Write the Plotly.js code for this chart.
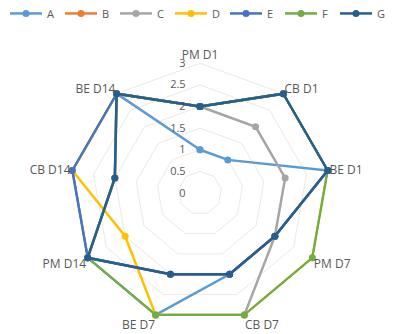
<!DOCTYPE html>
<html>
<head>
<meta charset="utf-8">
<script src="https://cdn.plot.ly/plotly-3.0.1.min.js"></script>
<style>
  html, body { margin: 0; padding: 0; background: #ffffff; }
  #chart { width: 398px; height: 334px; }
</style>
</head>
<body>
<div id="chart"></div>
<script>
// Sampling points around the radar
const categories = ['PM D1', 'CB D1', 'BE D1', 'PM D7', 'CB D7', 'BE D7', 'PM D14', 'CB D14', 'BE D14'];

// Scores per series
const seriesNames = ['A', 'B', 'C', 'D', 'E', 'F', 'G'];
const valuesA = [1, 1, 3, 2, 2, 3, 3, 3, 3];
const valuesB = [2, 3, 3, 2, 2, 2, 3, 2, 3];
const valuesC = [2, 2, 2, 2, 3, 3, 3, 3, 3];
const valuesD = [2, 3, 3, 3, 3, 3, 2, 3, 3];
const valuesE = [2, 3, 3, 2, 2, 2, 3, 3, 3];
const valuesF = [2, 3, 3, 3, 3, 3, 3, 2, 3];
const valuesG = [2, 3, 3, 2, 2, 2, 3, 2, 3];

// Radial scale ticks
const radialTicks = [0, 0.5, 1, 1.5, 2, 2.5, 3];

const seriesColors = ['#5B9BD5', '#ED7D31', '#A5A5A5', '#FFC000', '#4472C4', '#70AD47', '#255E91'];
const allValues = [valuesA, valuesB, valuesC, valuesD, valuesE, valuesF, valuesG];

// Close each polygon by repeating its first vertex
const closed = arr => arr.concat([arr[0]]);

const traces = allValues.map((vals, i) => ({
  type: 'scatterpolar',
  mode: 'lines+markers',
  name: seriesNames[i],
  r: closed(vals),
  theta: closed(categories),
  line: { color: seriesColors[i], width: 2.5 },
  marker: { color: seriesColors[i], size: 7, symbol: 'circle' },
  cliponaxis: false,
  hoverinfo: 'skip'
}));

const W = 398;

const layout = {
  width: W,
  height: 334,
  // full-width plot area so the one-row legend has room; the polar box is
  // placed through its domain as a 262px square centred at (200,193)
  margin: { l: 0, r: 0, t: 62, b: 10, autoexpand: false },
  paper_bgcolor: '#ffffff',
  plot_bgcolor: '#ffffff',
  font: { family: '"Open Sans", Lato, sans-serif', size: 11, color: '#595959' },
  showlegend: true,
  legend: {
    orientation: 'h',
    xref: 'paper',
    x: 5 / W,
    xanchor: 'left',
    yref: 'paper',
    y: 1.13,
    yanchor: 'bottom',
    entrywidth: 8,
    entrywidthmode: 'pixels',
    itemwidth: 32,
    font: { family: '"Open Sans", Lato, sans-serif', size: 11, color: '#595959' },
    bgcolor: 'rgba(0,0,0,0)'
  },
  polar: {
    domain: { x: [69 / W, 331 / W], y: [0, 1] },
    gridshape: 'linear',
    bgcolor: '#ffffff',
    radialaxis: {
      // padded a touch so the outer lines are not cut by the clip path
      range: [0, 3.03],
      tickvals: radialTicks,
      ticktext: radialTicks.map(String),
      angle: 90,
      tickangle: 90,
      side: 'counterclockwise',
      showline: false,
      ticks: 'outside',
      ticklen: 10,
      tickcolor: 'rgba(0,0,0,0)',
      gridcolor: '#EEE9E6',
      gridwidth: 1,
      tickfont: { size: 11, color: '#595959' }
    },
    angularaxis: {
      rotation: 90,
      direction: 'clockwise',
      showgrid: false,
      showline: false,
      ticks: '',
      tickfont: { size: 12, color: '#595959' }
    }
  }
};

Plotly.newPlot('chart', traces, layout, { displayModeBar: false, staticPlot: true });
</script>
</body>
</html>
